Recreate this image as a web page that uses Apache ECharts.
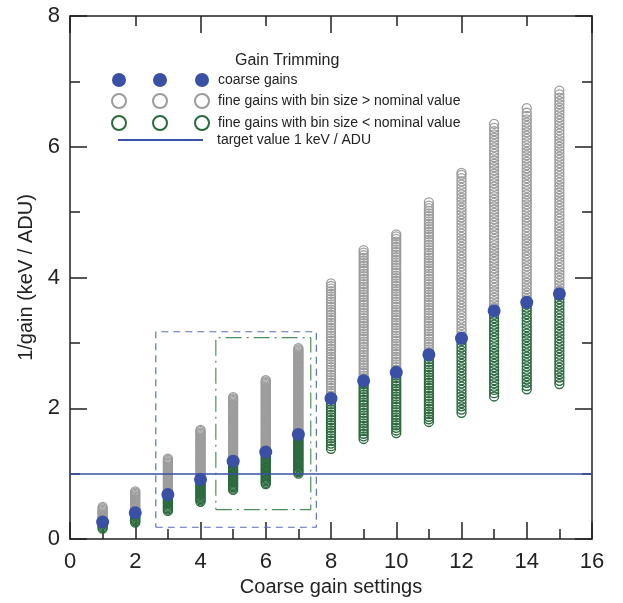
<!DOCTYPE html>
<html><head><meta charset="utf-8">
<script src="https://cdn.jsdelivr.net/npm/echarts/dist/echarts.min.js"></script>
<style>html,body{margin:0;padding:0;background:#fff}#c{width:623px;height:603px}</style>
</head><body><div id="c"></div>
<script>
const FONT = '"Liberation Sans", Arial, Helvetica, sans-serif';
const settings = [1,2,3,4,5,6,7,8,9,10,11,12,13,14,15];
const coarseGain = [0.26,0.40,0.68,0.91,1.19,1.33,1.60,2.15,2.42,2.55,2.82,3.07,3.49,3.62,3.75];
const targetValue = 1;
const xTicks = [0,16];
const yTicks = [0,8];
const outerBoxX = [2.63,7.55];
const outerBoxY = [0.18,3.17];
const innerBoxX = [4.47,7.38];
const innerBoxY = [0.45,3.08];
const NAME_COARSE = 'coarse gains';
const NAME_ABOVE = 'fine gains with bin size > nominal value';
const NAME_BELOW = 'fine gains with bin size < nominal value';
const NAME_TARGET = 'target value 1 keV / ADU';
const LEGEND_TITLE = 'Gain Trimming';
const X_TITLE = 'Coarse gain settings';
const Y_TITLE = '1/gain (keV / ADU)';

const fineAbove = [
 [0.27,0.29,0.31,0.33,0.35,0.37,0.39,0.41,0.43,0.45,0.47,0.49],
 [0.41,0.43,0.45,0.47,0.49,0.51,0.53,0.55,0.57,0.59,0.61,0.63,0.65,0.67,0.69,0.71,0.73],
 [0.69,0.71,0.73,0.75,0.77,0.79,0.81,0.83,0.85,0.87,0.89,0.91,0.93,0.95,0.97,0.99,1.01,1.03,1.05,1.07,1.09,1.11,1.13,1.15,1.17,1.19,1.21,1.23],
 [0.93,0.95,0.97,0.99,1.01,1.03,1.05,1.07,1.09,1.11,1.13,1.15,1.17,1.19,1.21,1.23,1.25,1.27,1.29,1.31,1.33,1.35,1.37,1.39,1.41,1.43,1.45,1.47,1.49,1.51,1.53,1.55,1.57,1.59,1.61,1.63,1.65,1.67],
 [1.21,1.23,1.25,1.27,1.29,1.31,1.33,1.35,1.37,1.39,1.41,1.43,1.45,1.47,1.49,1.51,1.53,1.55,1.57,1.59,1.61,1.63,1.65,1.67,1.69,1.71,1.73,1.75,1.77,1.79,1.81,1.83,1.85,1.87,1.89,1.91,1.93,1.95,1.97,1.99,2.01,2.03,2.05,2.07,2.09,2.11,2.13,2.15,2.17],
 [1.35,1.37,1.39,1.41,1.43,1.45,1.47,1.49,1.51,1.53,1.55,1.57,1.59,1.61,1.63,1.65,1.67,1.69,1.71,1.73,1.75,1.77,1.79,1.81,1.83,1.85,1.87,1.89,1.91,1.93,1.95,1.97,1.99,2.01,2.03,2.05,2.07,2.09,2.11,2.13,2.15,2.17,2.19,2.21,2.23,2.25,2.27,2.29,2.31,2.33,2.35,2.37,2.39,2.41,2.43],
 [1.62,1.64,1.66,1.68,1.70,1.72,1.74,1.76,1.78,1.80,1.82,1.84,1.86,1.88,1.90,1.92,1.94,1.96,1.98,2.00,2.02,2.04,2.06,2.08,2.10,2.12,2.14,2.16,2.18,2.20,2.22,2.24,2.26,2.28,2.30,2.32,2.34,2.36,2.38,2.40,2.42,2.44,2.46,2.48,2.50,2.52,2.54,2.56,2.58,2.60,2.62,2.64,2.66,2.68,2.70,2.72,2.74,2.76,2.78,2.80,2.82,2.84,2.86,2.88,2.90,2.92],
 [2.19,2.23,2.27,2.31,2.35,2.39,2.43,2.47,2.51,2.55,2.59,2.63,2.67,2.71,2.75,2.79,2.83,2.87,2.91,2.95,2.99,3.03,3.07,3.11,3.15,3.19,3.23,3.27,3.31,3.35,3.39,3.43,3.47,3.51,3.55,3.59,3.63,3.67,3.71,3.75,3.79,3.83,3.87,3.91],
 [2.46,2.50,2.54,2.58,2.62,2.66,2.70,2.74,2.78,2.82,2.86,2.90,2.94,2.98,3.02,3.06,3.10,3.14,3.18,3.22,3.26,3.30,3.34,3.38,3.42,3.46,3.50,3.54,3.58,3.62,3.66,3.70,3.74,3.78,3.82,3.86,3.90,3.94,3.98,4.02,4.06,4.10,4.14,4.18,4.22,4.26,4.30,4.34,4.38,4.42],
 [2.59,2.63,2.67,2.71,2.75,2.79,2.83,2.87,2.91,2.95,2.99,3.03,3.07,3.11,3.15,3.19,3.23,3.27,3.31,3.35,3.39,3.43,3.47,3.51,3.55,3.59,3.63,3.67,3.71,3.75,3.79,3.83,3.87,3.91,3.95,3.99,4.03,4.07,4.11,4.15,4.19,4.23,4.27,4.31,4.35,4.39,4.43,4.47,4.51,4.55,4.59,4.63,4.66],
 [2.86,2.90,2.94,2.98,3.02,3.06,3.10,3.14,3.18,3.22,3.26,3.30,3.34,3.38,3.42,3.46,3.50,3.54,3.58,3.62,3.66,3.70,3.74,3.78,3.82,3.86,3.90,3.94,3.98,4.02,4.06,4.10,4.14,4.18,4.22,4.26,4.30,4.34,4.38,4.42,4.46,4.50,4.54,4.58,4.62,4.66,4.70,4.74,4.78,4.82,4.86,4.90,4.94,4.98,5.02,5.06,5.10,5.15],
 [3.12,3.17,3.22,3.27,3.32,3.37,3.42,3.47,3.52,3.57,3.62,3.67,3.72,3.77,3.82,3.87,3.92,3.97,4.02,4.07,4.12,4.17,4.22,4.27,4.32,4.37,4.42,4.47,4.52,4.57,4.62,4.67,4.72,4.77,4.82,4.87,4.92,4.97,5.02,5.07,5.12,5.17,5.22,5.27,5.32,5.37,5.42,5.47,5.52,5.57,5.60],
 [3.54,3.59,3.64,3.69,3.74,3.79,3.84,3.89,3.94,3.99,4.04,4.09,4.14,4.19,4.24,4.29,4.34,4.39,4.44,4.49,4.54,4.59,4.64,4.69,4.74,4.79,4.84,4.89,4.94,4.99,5.04,5.09,5.14,5.19,5.24,5.29,5.34,5.39,5.44,5.49,5.54,5.59,5.64,5.69,5.74,5.79,5.84,5.89,5.94,5.99,6.04,6.09,6.14,6.19,6.24,6.29,6.35],
 [3.67,3.72,3.77,3.82,3.87,3.92,3.97,4.02,4.07,4.12,4.17,4.22,4.27,4.32,4.37,4.42,4.47,4.52,4.57,4.62,4.67,4.72,4.77,4.82,4.87,4.92,4.97,5.02,5.07,5.12,5.17,5.22,5.27,5.32,5.37,5.42,5.47,5.52,5.57,5.62,5.67,5.72,5.77,5.82,5.87,5.92,5.97,6.02,6.07,6.12,6.17,6.22,6.27,6.32,6.37,6.42,6.47,6.52,6.59],
 [3.80,3.85,3.90,3.95,4.00,4.05,4.10,4.15,4.20,4.25,4.30,4.35,4.40,4.45,4.50,4.55,4.60,4.65,4.70,4.75,4.80,4.85,4.90,4.95,5.00,5.05,5.10,5.15,5.20,5.25,5.30,5.35,5.40,5.45,5.50,5.55,5.60,5.65,5.70,5.75,5.80,5.85,5.90,5.95,6.00,6.05,6.10,6.15,6.20,6.25,6.30,6.35,6.40,6.45,6.50,6.55,6.60,6.65,6.70,6.75,6.80,6.86]
];

const fineBelow = [
 [0.16,0.18,0.20,0.22,0.24],
 [0.25,0.27,0.29,0.31,0.33,0.35,0.37,0.39],
 [0.43,0.45,0.47,0.49,0.51,0.53,0.55,0.57,0.59,0.61,0.63,0.65,0.67],
 [0.57,0.59,0.61,0.63,0.65,0.67,0.69,0.71,0.73,0.75,0.77,0.79,0.81,0.83,0.85,0.87,0.89],
 [0.75,0.77,0.79,0.81,0.83,0.85,0.87,0.89,0.91,0.93,0.95,0.97,0.99,1.01,1.03,1.05,1.07,1.09,1.11,1.13,1.15,1.17],
 [0.84,0.86,0.88,0.90,0.92,0.94,0.96,0.98,1.00,1.02,1.04,1.06,1.08,1.10,1.12,1.14,1.16,1.18,1.20,1.22,1.24,1.26,1.28,1.30,1.32],
 [1.00,1.02,1.04,1.06,1.08,1.10,1.12,1.14,1.16,1.18,1.20,1.22,1.24,1.26,1.28,1.30,1.32,1.34,1.36,1.38,1.40,1.42,1.44,1.46,1.48,1.50,1.52,1.54,1.56,1.58],
 [1.38,1.42,1.46,1.50,1.54,1.58,1.62,1.66,1.70,1.74,1.78,1.82,1.86,1.90,1.94,1.98,2.02,2.06,2.10,2.14],
 [1.53,1.57,1.61,1.65,1.69,1.73,1.77,1.81,1.85,1.89,1.93,1.97,2.01,2.05,2.09,2.13,2.17,2.21,2.25,2.29,2.33,2.37,2.41],
 [1.62,1.66,1.70,1.74,1.78,1.82,1.86,1.90,1.94,1.98,2.02,2.06,2.10,2.14,2.18,2.22,2.26,2.30,2.34,2.38,2.42,2.46,2.50,2.54],
 [1.79,1.83,1.87,1.91,1.95,1.99,2.03,2.07,2.11,2.15,2.19,2.23,2.27,2.31,2.35,2.39,2.43,2.47,2.51,2.55,2.59,2.63,2.67,2.71,2.75,2.79],
 [1.93,1.98,2.03,2.08,2.13,2.18,2.23,2.28,2.33,2.38,2.43,2.48,2.53,2.58,2.63,2.68,2.73,2.78,2.83,2.88,2.93,2.98,3.03],
 [2.18,2.23,2.28,2.33,2.38,2.43,2.48,2.53,2.58,2.63,2.68,2.73,2.78,2.83,2.88,2.93,2.98,3.03,3.08,3.13,3.18,3.23,3.28,3.33,3.38,3.43,3.48],
 [2.29,2.34,2.39,2.44,2.49,2.54,2.59,2.64,2.69,2.74,2.79,2.84,2.89,2.94,2.99,3.04,3.09,3.14,3.19,3.24,3.29,3.34,3.39,3.44,3.49,3.54,3.59],
 [2.37,2.42,2.47,2.52,2.57,2.62,2.67,2.72,2.77,2.82,2.87,2.92,2.97,3.02,3.07,3.12,3.17,3.22,3.27,3.32,3.37,3.42,3.47,3.52,3.57,3.62,3.67,3.72]
];

const C_AXIS = '#231f20';
const C_GREY = '#9c9c9c';
const C_GREEN = '#2a6a3d';
const C_BLUE = '#3a50a5';

const aboveData = settings.flatMap((s, i) => fineAbove[i].map(v => [s, v]));
const belowData = settings.flatMap((s, i) => fineBelow[i].map(v => [s, v]));
const coarseData = settings.map((s, i) => [s, coarseGain[i]]);
const boxPath = (bx, by) => [[bx[0],by[0]],[bx[1],by[0]],[bx[1],by[1]],[bx[0],by[1]],[bx[0],by[0]]];

const axisBase = {
  type: 'value', min: xTicks[0], max: xTicks[1],
  axisLine: {show: true, onZero: false, lineStyle: {color: C_AXIS, width: 1.5}},
  axisTick: {show: true, inside: true, length: 17, lineStyle: {color: C_AXIS, width: 1.5}},
  minorTick: {show: true, splitNumber: 2, length: 10, lineStyle: {color: C_AXIS, width: 1.5}},
  splitLine: {show: false},
  axisLabel: {color: '#222', fontSize: 22, fontFamily: FONT}
};
const yBase = Object.assign({}, axisBase, {min: yTicks[0], max: yTicks[1], interval: 2});

const legendBase = {
  orient: 'vertical', itemWidth: 14, itemHeight: 14, itemGap: 6, selectedMode: false,
  padding: 0,
  textStyle: {fontSize: 14, color: '#222', fontFamily: FONT, lineHeight: 14}
};
const legendItems = [NAME_COARSE, NAME_ABOVE, NAME_BELOW];

const chart = echarts.init(document.getElementById('c'), null, {renderer: 'canvas'});
chart.setOption({
  animation: false,
  backgroundColor: '#fff',
  title: {text: LEGEND_TITLE, left: 235, top: 53, padding: 0,
    textStyle: {fontSize: 16, fontWeight: 'normal', color: '#222', fontFamily: FONT}},
  legend: [
    Object.assign({}, legendBase, {left: 111, top: 73, data: legendItems, formatter: () => ''}),
    Object.assign({}, legendBase, {left: 152, top: 73, data: legendItems, formatter: () => ''}),
    Object.assign({}, legendBase, {left: 194, top: 73, data: legendItems,
      textStyle: Object.assign({}, legendBase.textStyle, {padding: [0,0,0,4]})}),
    Object.assign({}, legendBase, {left: 118, top: 133, itemWidth: 85, itemHeight: 2, icon: 'rect',
      data: [NAME_TARGET],
      textStyle: Object.assign({}, legendBase.textStyle, {padding: [0,0,0,9]})})
  ],
  grid: {left: 70, right: 31, top: 16, bottom: 64, containLabel: false},
  xAxis: [
    Object.assign({}, axisBase, {position: 'bottom', interval: 2,
      name: X_TITLE, nameLocation: 'middle', nameGap: 36,
      nameTextStyle: {fontSize: 20, color: '#222', fontFamily: FONT},
      axisLabel: Object.assign({}, axisBase.axisLabel, {margin: 12})}),
    Object.assign({}, axisBase, {position: 'top', interval: 4, axisLabel: {show: false}})
  ],
  yAxis: [
    Object.assign({}, yBase, {position: 'left',
      name: Y_TITLE, nameLocation: 'middle', nameGap: 34, nameRotate: 90,
      nameTextStyle: {fontSize: 20, color: '#222', fontFamily: FONT},
      axisLabel: Object.assign({}, axisBase.axisLabel, {margin: 10})}),
    Object.assign({}, yBase, {position: 'right', axisLabel: {show: false}})
  ],
  series: [
    {name: NAME_ABOVE, type: 'scatter', data: aboveData, symbol: 'circle', symbolSize: 9, z: 2, silent: true,
      itemStyle: {color: 'rgba(255,255,255,0)', borderColor: C_GREY, borderWidth: 1.3, opacity: 1}},
    {name: NAME_BELOW, type: 'scatter', data: belowData, symbol: 'circle', symbolSize: 9, z: 2, silent: true,
      itemStyle: {color: 'rgba(255,255,255,0)', borderColor: C_GREEN, borderWidth: 1.3, opacity: 1}},
    {type: 'line', data: boxPath(outerBoxX, outerBoxY), symbol: 'none', z: 3, silent: true,
      lineStyle: {color: '#5b70b8', width: 1.2, type: [7,5]}},
    {type: 'line', data: boxPath(innerBoxX, innerBoxY), symbol: 'none', z: 3, silent: true,
      lineStyle: {color: '#4e8f5e', width: 1.2, type: [16,5,2,5]}},
    {name: NAME_TARGET, type: 'line', data: [], symbol: 'none', showSymbol: false, z: 4,
      lineStyle: {color: C_BLUE, width: 1.5}, itemStyle: {color: C_BLUE},
      markLine: {symbol: 'none', silent: true, label: {show: false},
        lineStyle: {color: C_BLUE, width: 1.5, type: 'solid'},
        data: [{yAxis: targetValue}]}},
    {name: NAME_COARSE, type: 'scatter', data: coarseData, symbol: 'circle', symbolSize: 13, z: 5,
      itemStyle: {color: C_BLUE, opacity: 1}}
  ]
});
</script>
</body></html>
